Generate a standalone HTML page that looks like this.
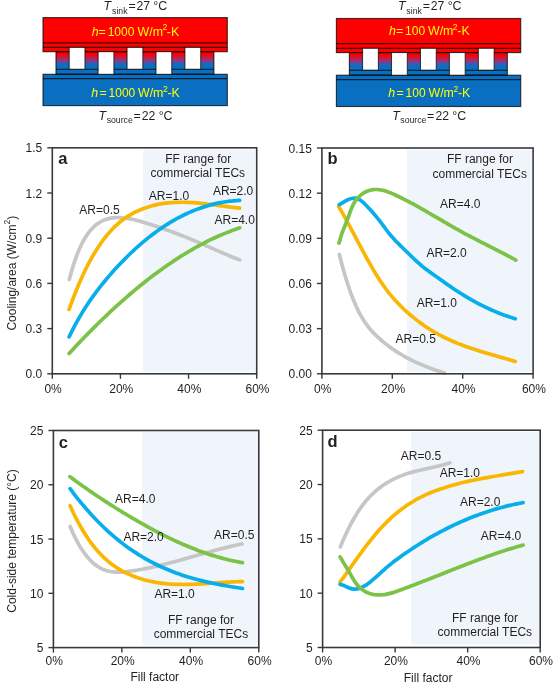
<!DOCTYPE html><html><head><meta charset="utf-8"><style>html,body{margin:0;padding:0;background:#fff;}svg{display:block;}text{font-family:"Liberation Sans", sans-serif;fill:#231f20;}</style></head><body>
<svg width="553" height="685" viewBox="0 0 553 685"><g style="will-change:transform">
<defs><linearGradient id="lg" x1="0" y1="0" x2="0" y2="1"><stop offset="0.15" stop-color="#ff0000"/><stop offset="0.5" stop-color="#8a3a8a"/><stop offset="0.75" stop-color="#0a6fc0"/><stop offset="1" stop-color="#0a6fc0"/></linearGradient></defs>
<rect x="43.00" y="17.60" width="184.30" height="34.10" fill="#ff0000"/>
<rect x="56.00" y="51.70" width="157.90" height="17.70" fill="url(#lg)"/>
<rect x="56.00" y="69.40" width="157.90" height="4.90" fill="#0a6fc0"/>
<rect x="43.00" y="74.30" width="184.30" height="31.30" fill="#0a6fc0"/>
<rect x="43.00" y="17.60" width="184.30" height="34.10" stroke="#000" stroke-opacity="0.72" stroke-width="1.15" fill="none"/>
<rect x="56.00" y="51.70" width="157.90" height="22.60" stroke="#000" stroke-opacity="0.72" stroke-width="1.15" fill="none"/>
<rect x="43.00" y="74.30" width="184.30" height="31.30" stroke="#000" stroke-opacity="0.72" stroke-width="1.15" fill="none"/>
<line x1="43.00" y1="42.80" x2="227.30" y2="42.80" stroke="#000" stroke-opacity="0.72" stroke-width="1.3"/>
<line x1="43.00" y1="47.40" x2="227.30" y2="47.40" stroke="#000" stroke-opacity="0.72" stroke-width="1.3"/>
<line x1="56.00" y1="69.40" x2="213.90" y2="69.40" stroke="#000" stroke-opacity="0.72" stroke-width="1.3"/>
<line x1="43.00" y1="78.70" x2="227.30" y2="78.70" stroke="#000" stroke-opacity="0.72" stroke-width="1.3"/>
<rect x="69.20" y="47.40" width="15.74" height="21.80" fill="#fff" stroke="#000" stroke-opacity="0.72" stroke-width="1.0"/>
<rect x="98.14" y="51.70" width="15.74" height="22.60" fill="#fff" stroke="#000" stroke-opacity="0.72" stroke-width="1.0"/>
<rect x="127.08" y="47.40" width="15.74" height="21.80" fill="#fff" stroke="#000" stroke-opacity="0.72" stroke-width="1.0"/>
<rect x="156.02" y="51.70" width="15.74" height="22.60" fill="#fff" stroke="#000" stroke-opacity="0.72" stroke-width="1.0"/>
<rect x="184.96" y="47.40" width="15.74" height="21.80" fill="#fff" stroke="#000" stroke-opacity="0.72" stroke-width="1.0"/>
<rect x="336.40" y="18.50" width="184.30" height="34.10" fill="#ff0000"/>
<rect x="349.40" y="52.60" width="157.90" height="17.70" fill="url(#lg)"/>
<rect x="349.40" y="70.30" width="157.90" height="4.90" fill="#0a6fc0"/>
<rect x="336.40" y="75.20" width="184.30" height="31.30" fill="#0a6fc0"/>
<rect x="336.40" y="18.50" width="184.30" height="34.10" stroke="#000" stroke-opacity="0.72" stroke-width="1.15" fill="none"/>
<rect x="349.40" y="52.60" width="157.90" height="22.60" stroke="#000" stroke-opacity="0.72" stroke-width="1.15" fill="none"/>
<rect x="336.40" y="75.20" width="184.30" height="31.30" stroke="#000" stroke-opacity="0.72" stroke-width="1.15" fill="none"/>
<line x1="336.40" y1="43.70" x2="520.70" y2="43.70" stroke="#000" stroke-opacity="0.72" stroke-width="1.3"/>
<line x1="336.40" y1="48.30" x2="520.70" y2="48.30" stroke="#000" stroke-opacity="0.72" stroke-width="1.3"/>
<line x1="349.40" y1="70.30" x2="507.30" y2="70.30" stroke="#000" stroke-opacity="0.72" stroke-width="1.3"/>
<line x1="336.40" y1="79.60" x2="520.70" y2="79.60" stroke="#000" stroke-opacity="0.72" stroke-width="1.3"/>
<rect x="362.60" y="48.30" width="15.74" height="21.80" fill="#fff" stroke="#000" stroke-opacity="0.72" stroke-width="1.0"/>
<rect x="391.54" y="52.60" width="15.74" height="22.60" fill="#fff" stroke="#000" stroke-opacity="0.72" stroke-width="1.0"/>
<rect x="420.48" y="48.30" width="15.74" height="21.80" fill="#fff" stroke="#000" stroke-opacity="0.72" stroke-width="1.0"/>
<rect x="449.42" y="52.60" width="15.74" height="22.60" fill="#fff" stroke="#000" stroke-opacity="0.72" stroke-width="1.0"/>
<rect x="478.36" y="48.30" width="15.74" height="21.80" fill="#fff" stroke="#000" stroke-opacity="0.72" stroke-width="1.0"/>
<text x="91.69" y="35.60" font-size="12.40" style="font-style:italic;fill:#ffff00;">h</text>
<text x="98.49" y="35.60" font-size="12.40" style="fill:#ffff00;">=</text>
<text x="107.69" y="35.60" font-size="12.00" style="fill:#ffff00;">1000</text>
<text x="137.55" y="35.60" font-size="12.40" style="fill:#ffff00;">W/m</text>
<text x="162.47" y="30.00" font-size="8.60" style="fill:#ffff00;">2</text>
<text x="166.85" y="35.60" font-size="12.40" style="fill:#ffff00;">-K</text>
<text x="91.29" y="96.70" font-size="12.40" style="font-style:italic;fill:#ffff00;">h</text>
<text x="99.49" y="96.70" font-size="12.40" style="fill:#ffff00;">=</text>
<text x="108.59" y="96.70" font-size="12.00" style="fill:#ffff00;">1000</text>
<text x="137.95" y="96.70" font-size="12.40" style="fill:#ffff00;">W/m</text>
<text x="162.97" y="91.60" font-size="8.60" style="fill:#ffff00;">2</text>
<text x="167.45" y="96.70" font-size="12.40" style="fill:#ffff00;">-K</text>
<text x="389.09" y="35.20" font-size="12.40" style="font-style:italic;fill:#ffff00;">h</text>
<text x="395.89" y="35.20" font-size="12.40" style="fill:#ffff00;">=</text>
<text x="405.09" y="35.20" font-size="12.00" style="fill:#ffff00;">100</text>
<text x="427.95" y="35.20" font-size="12.40" style="fill:#ffff00;">W/m</text>
<text x="452.87" y="29.60" font-size="8.60" style="fill:#ffff00;">2</text>
<text x="457.25" y="35.20" font-size="12.40" style="fill:#ffff00;">-K</text>
<text x="388.29" y="96.60" font-size="12.40" style="font-style:italic;fill:#ffff00;">h</text>
<text x="396.49" y="96.60" font-size="12.40" style="fill:#ffff00;">=</text>
<text x="405.59" y="96.60" font-size="12.00" style="fill:#ffff00;">100</text>
<text x="428.45" y="96.60" font-size="12.40" style="fill:#ffff00;">W/m</text>
<text x="453.47" y="91.50" font-size="8.60" style="fill:#ffff00;">2</text>
<text x="457.95" y="96.60" font-size="12.40" style="fill:#ffff00;">-K</text>
<text x="103.59" y="10.20" font-size="12.40" style="font-style:italic;">T</text>
<text x="112.06" y="13.50" font-size="8.70" style="">sink</text>
<text x="128.49" y="10.20" font-size="12.40" style="">=</text>
<text x="136.39" y="10.20" font-size="12.20" style="">27</text>
<text x="153.36" y="10.20" font-size="12.40" style="">°C</text>
<text x="397.89" y="10.20" font-size="12.40" style="font-style:italic;">T</text>
<text x="406.36" y="13.50" font-size="8.70" style="">sink</text>
<text x="422.79" y="10.20" font-size="12.40" style="">=</text>
<text x="430.69" y="10.20" font-size="12.20" style="">27</text>
<text x="447.66" y="10.20" font-size="12.40" style="">°C</text>
<text x="98.49" y="120.40" font-size="12.40" style="font-style:italic;">T</text>
<text x="106.66" y="123.40" font-size="8.70" style="">source</text>
<text x="133.39" y="120.40" font-size="12.40" style="">=</text>
<text x="141.69" y="120.40" font-size="12.20" style="">22</text>
<text x="158.66" y="120.40" font-size="12.40" style="">°C</text>
<text x="392.19" y="120.40" font-size="12.40" style="font-style:italic;">T</text>
<text x="400.36" y="123.40" font-size="8.70" style="">source</text>
<text x="427.09" y="120.40" font-size="12.40" style="">=</text>
<text x="435.39" y="120.40" font-size="12.20" style="">22</text>
<text x="452.36" y="120.40" font-size="12.40" style="">°C</text>
<rect x="143.2" y="149.6" width="112.20" height="222.20" fill="#eff5fa"/>
<path d="M69.30,279.50 C69.82,277.66 71.37,271.88 72.40,268.46 C73.43,265.04 74.46,261.90 75.50,258.97 C76.53,256.03 77.56,253.36 78.59,250.87 C79.63,248.38 80.66,246.13 81.69,244.04 C82.73,241.95 83.76,240.08 84.79,238.34 C85.82,236.61 86.86,235.06 87.89,233.63 C88.92,232.20 89.95,230.94 90.99,229.77 C92.02,228.60 93.05,227.58 94.09,226.63 C95.12,225.68 96.15,224.84 97.18,224.06 C98.22,223.29 99.25,222.61 100.28,222.00 C101.31,221.38 102.35,220.85 103.38,220.38 C104.41,219.91 105.45,219.51 106.48,219.17 C107.51,218.82 108.54,218.55 109.58,218.32 C110.61,218.09 111.64,217.92 112.67,217.80 C113.71,217.67 114.74,217.59 115.77,217.55 C116.81,217.51 117.84,217.51 118.87,217.54 C119.90,217.57 120.94,217.64 121.97,217.73 C123.00,217.82 124.03,217.94 125.07,218.07 C126.10,218.20 127.13,218.36 128.17,218.53 C129.20,218.70 130.23,218.89 131.26,219.10 C132.30,219.31 133.33,219.53 134.36,219.77 C135.39,220.00 136.43,220.26 137.46,220.52 C138.49,220.78 139.53,221.06 140.56,221.35 C141.59,221.63 142.62,221.93 143.66,222.24 C144.69,222.54 145.72,222.86 146.75,223.18 C147.79,223.50 148.82,223.83 149.85,224.16 C150.89,224.50 151.92,224.84 152.95,225.18 C153.98,225.52 155.02,225.86 156.05,226.21 C157.08,226.56 158.11,226.91 159.15,227.26 C160.18,227.62 161.21,227.97 162.25,228.33 C163.28,228.69 164.31,229.06 165.34,229.42 C166.38,229.79 167.41,230.16 168.44,230.53 C169.47,230.91 170.51,231.28 171.54,231.66 C172.57,232.05 173.61,232.43 174.64,232.82 C175.67,233.20 176.70,233.60 177.74,233.99 C178.77,234.38 179.80,234.78 180.83,235.19 C181.87,235.59 182.90,235.99 183.93,236.40 C184.97,236.81 186.00,237.23 187.03,237.64 C188.06,238.06 189.10,238.48 190.13,238.91 C191.16,239.33 192.19,239.76 193.23,240.20 C194.26,240.63 195.29,241.07 196.33,241.51 C197.36,241.94 198.39,242.39 199.42,242.83 C200.46,243.27 201.49,243.72 202.52,244.17 C203.55,244.62 204.59,245.07 205.62,245.52 C206.65,245.97 207.69,246.42 208.72,246.87 C209.75,247.32 210.78,247.77 211.82,248.22 C212.85,248.67 213.88,249.13 214.91,249.58 C215.95,250.03 216.98,250.48 218.01,250.92 C219.05,251.37 220.08,251.82 221.11,252.26 C222.14,252.71 223.18,253.15 224.21,253.59 C225.24,254.03 226.27,254.46 227.31,254.90 C228.34,255.33 229.37,255.76 230.41,256.18 C231.44,256.61 232.47,257.03 233.50,257.45 C234.54,257.87 235.57,258.28 236.60,258.69 C237.63,259.09 239.18,259.69 239.70,259.89" fill="none" stroke="#c6c6c6" stroke-width="3.70" stroke-linecap="round" stroke-linejoin="round"/>
<path d="M69.10,309.46 C69.62,308.04 71.17,303.68 72.20,300.91 C73.24,298.14 74.27,295.46 75.30,292.85 C76.34,290.24 77.37,287.72 78.41,285.27 C79.44,282.82 80.47,280.45 81.51,278.16 C82.54,275.86 83.58,273.64 84.61,271.49 C85.64,269.34 86.68,267.27 87.71,265.26 C88.74,263.25 89.78,261.31 90.81,259.44 C91.85,257.57 92.88,255.76 93.91,254.02 C94.95,252.28 95.98,250.60 97.02,248.98 C98.05,247.37 99.08,245.81 100.12,244.32 C101.15,242.82 102.19,241.38 103.22,240.00 C104.25,238.61 105.29,237.29 106.32,236.02 C107.36,234.74 108.39,233.52 109.42,232.35 C110.46,231.18 111.49,230.06 112.53,228.99 C113.56,227.92 114.59,226.90 115.63,225.92 C116.66,224.94 117.70,224.01 118.73,223.11 C119.76,222.22 120.80,221.38 121.83,220.57 C122.86,219.76 123.90,218.99 124.93,218.25 C125.97,217.52 127.00,216.83 128.03,216.16 C129.07,215.50 130.10,214.88 131.14,214.28 C132.17,213.69 133.20,213.12 134.24,212.59 C135.27,212.05 136.31,211.55 137.34,211.07 C138.37,210.59 139.41,210.14 140.44,209.71 C141.48,209.27 142.51,208.87 143.54,208.48 C144.58,208.10 145.61,207.73 146.65,207.39 C147.68,207.05 148.71,206.72 149.75,206.42 C150.78,206.11 151.82,205.83 152.85,205.56 C153.88,205.29 154.92,205.05 155.95,204.82 C156.98,204.59 158.02,204.37 159.05,204.18 C160.09,203.98 161.12,203.80 162.15,203.64 C163.19,203.48 164.22,203.33 165.26,203.20 C166.29,203.06 167.32,202.95 168.36,202.84 C169.39,202.74 170.43,202.65 171.46,202.58 C172.49,202.50 173.53,202.44 174.56,202.39 C175.60,202.34 176.63,202.31 177.66,202.28 C178.70,202.26 179.73,202.25 180.77,202.24 C181.80,202.24 182.83,202.25 183.87,202.27 C184.90,202.29 185.94,202.32 186.97,202.36 C188.00,202.39 189.04,202.44 190.07,202.50 C191.10,202.55 192.14,202.62 193.17,202.69 C194.21,202.76 195.24,202.84 196.27,202.93 C197.31,203.01 198.34,203.10 199.38,203.20 C200.41,203.30 201.44,203.40 202.48,203.51 C203.51,203.62 204.55,203.74 205.58,203.85 C206.61,203.97 207.65,204.10 208.68,204.22 C209.72,204.35 210.75,204.48 211.78,204.61 C212.82,204.74 213.85,204.87 214.89,205.01 C215.92,205.14 216.95,205.28 217.99,205.42 C219.02,205.55 220.06,205.69 221.09,205.83 C222.12,205.97 223.16,206.11 224.19,206.24 C225.22,206.38 226.26,206.52 227.29,206.65 C228.33,206.78 229.36,206.92 230.39,207.05 C231.43,207.18 232.46,207.30 233.50,207.43 C234.53,207.55 235.56,207.67 236.60,207.79 C237.63,207.90 239.18,208.07 239.70,208.12" fill="none" stroke="#f9b602" stroke-width="3.70" stroke-linecap="round" stroke-linejoin="round"/>
<path d="M69.10,336.83 C69.62,335.80 71.17,332.64 72.20,330.62 C73.24,328.61 74.27,326.65 75.30,324.73 C76.34,322.82 77.37,320.96 78.41,319.15 C79.44,317.33 80.47,315.56 81.51,313.84 C82.54,312.11 83.58,310.44 84.61,308.80 C85.64,307.16 86.68,305.56 87.71,304.00 C88.74,302.43 89.78,300.91 90.81,299.42 C91.85,297.93 92.88,296.48 93.91,295.05 C94.95,293.62 95.98,292.23 97.02,290.87 C98.05,289.50 99.08,288.16 100.12,286.85 C101.15,285.53 102.19,284.25 103.22,282.98 C104.25,281.71 105.29,280.46 106.32,279.24 C107.36,278.01 108.39,276.80 109.42,275.60 C110.46,274.41 111.49,273.23 112.53,272.06 C113.56,270.90 114.59,269.75 115.63,268.62 C116.66,267.48 117.70,266.37 118.73,265.26 C119.76,264.16 120.80,263.07 121.83,262.00 C122.86,260.93 123.90,259.87 124.93,258.83 C125.97,257.78 127.00,256.75 128.03,255.74 C129.07,254.73 130.10,253.73 131.14,252.75 C132.17,251.76 133.20,250.79 134.24,249.84 C135.27,248.89 136.31,247.95 137.34,247.02 C138.37,246.10 139.41,245.19 140.44,244.29 C141.48,243.40 142.51,242.52 143.54,241.65 C144.58,240.78 145.61,239.93 146.65,239.09 C147.68,238.26 148.71,237.43 149.75,236.62 C150.78,235.82 151.82,235.02 152.85,234.24 C153.88,233.46 154.92,232.69 155.95,231.94 C156.98,231.19 158.02,230.45 159.05,229.73 C160.09,229.00 161.12,228.29 162.15,227.60 C163.19,226.90 164.22,226.22 165.26,225.55 C166.29,224.88 167.32,224.23 168.36,223.59 C169.39,222.95 170.43,222.32 171.46,221.71 C172.49,221.09 173.53,220.50 174.56,219.91 C175.60,219.32 176.63,218.75 177.66,218.19 C178.70,217.64 179.73,217.09 180.77,216.56 C181.80,216.03 182.83,215.51 183.87,215.01 C184.90,214.50 185.94,214.01 186.97,213.53 C188.00,213.06 189.04,212.59 190.07,212.14 C191.10,211.69 192.14,211.25 193.17,210.83 C194.21,210.41 195.24,210.00 196.27,209.60 C197.31,209.20 198.34,208.81 199.38,208.44 C200.41,208.07 201.44,207.71 202.48,207.37 C203.51,207.02 204.55,206.69 205.58,206.37 C206.61,206.05 207.65,205.74 208.68,205.45 C209.72,205.16 210.75,204.87 211.78,204.61 C212.82,204.34 213.85,204.08 214.89,203.84 C215.92,203.60 216.95,203.37 217.99,203.15 C219.02,202.93 220.06,202.73 221.09,202.53 C222.12,202.34 223.16,202.16 224.19,202.00 C225.22,201.83 226.26,201.67 227.29,201.53 C228.33,201.39 229.36,201.26 230.39,201.14 C231.43,201.02 232.46,200.92 233.50,200.82 C234.53,200.73 235.56,200.65 236.60,200.58 C237.63,200.51 239.18,200.44 239.70,200.41" fill="none" stroke="#08aeea" stroke-width="3.70" stroke-linecap="round" stroke-linejoin="round"/>
<path d="M69.10,353.51 C69.62,352.95 71.17,351.26 72.20,350.15 C73.24,349.04 74.27,347.93 75.30,346.83 C76.34,345.72 77.37,344.63 78.41,343.54 C79.44,342.45 80.47,341.36 81.51,340.28 C82.54,339.20 83.58,338.13 84.61,337.06 C85.64,336.00 86.68,334.94 87.71,333.88 C88.74,332.83 89.78,331.78 90.81,330.73 C91.85,329.69 92.88,328.65 93.91,327.62 C94.95,326.59 95.98,325.57 97.02,324.55 C98.05,323.53 99.08,322.51 100.12,321.51 C101.15,320.50 102.19,319.50 103.22,318.51 C104.25,317.51 105.29,316.52 106.32,315.54 C107.36,314.56 108.39,313.58 109.42,312.61 C110.46,311.65 111.49,310.68 112.53,309.73 C113.56,308.77 114.59,307.82 115.63,306.87 C116.66,305.93 117.70,304.99 118.73,304.06 C119.76,303.13 120.80,302.21 121.83,301.29 C122.86,300.37 123.90,299.46 124.93,298.55 C125.97,297.65 127.00,296.75 128.03,295.86 C129.07,294.97 130.10,294.08 131.14,293.21 C132.17,292.33 133.20,291.46 134.24,290.59 C135.27,289.73 136.31,288.87 137.34,288.02 C138.37,287.16 139.41,286.32 140.44,285.48 C141.48,284.64 142.51,283.81 143.54,282.99 C144.58,282.17 145.61,281.35 146.65,280.54 C147.68,279.73 148.71,278.92 149.75,278.13 C150.78,277.33 151.82,276.54 152.85,275.76 C153.88,274.98 154.92,274.20 155.95,273.44 C156.98,272.67 158.02,271.91 159.05,271.15 C160.09,270.40 161.12,269.65 162.15,268.91 C163.19,268.17 164.22,267.44 165.26,266.72 C166.29,265.99 167.32,265.28 168.36,264.57 C169.39,263.85 170.43,263.15 171.46,262.46 C172.49,261.76 173.53,261.07 174.56,260.39 C175.60,259.71 176.63,259.04 177.66,258.37 C178.70,257.71 179.73,257.05 180.77,256.40 C181.80,255.75 182.83,255.10 183.87,254.47 C184.90,253.83 185.94,253.20 186.97,252.58 C188.00,251.96 189.04,251.35 190.07,250.74 C191.10,250.14 192.14,249.54 193.17,248.95 C194.21,248.36 195.24,247.78 196.27,247.21 C197.31,246.63 198.34,246.06 199.38,245.51 C200.41,244.95 201.44,244.40 202.48,243.85 C203.51,243.31 204.55,242.78 205.58,242.25 C206.61,241.72 207.65,241.20 208.68,240.69 C209.72,240.18 210.75,239.68 211.78,239.18 C212.82,238.69 213.85,238.20 214.89,237.72 C215.92,237.24 216.95,236.77 217.99,236.31 C219.02,235.85 220.06,235.39 221.09,234.95 C222.12,234.50 223.16,234.06 224.19,233.63 C225.22,233.20 226.26,232.78 227.29,232.37 C228.33,231.96 229.36,231.55 230.39,231.16 C231.43,230.76 232.46,230.37 233.50,229.99 C234.53,229.61 235.56,229.24 236.60,228.88 C237.63,228.52 239.18,227.99 239.70,227.82" fill="none" stroke="#7cc246" stroke-width="3.70" stroke-linecap="round" stroke-linejoin="round"/>
<rect x="52.30" y="147.80" width="204.40" height="226.00" fill="none" stroke="#38393d" stroke-width="1.6"/>
<line x1="47.30" y1="373.80" x2="52.30" y2="373.80" stroke="#38393d" stroke-width="1.4"/>
<text x="42.30" y="378.40" font-size="12" text-anchor="end" >0.0</text>
<line x1="47.30" y1="328.60" x2="52.30" y2="328.60" stroke="#38393d" stroke-width="1.4"/>
<text x="42.30" y="333.20" font-size="12" text-anchor="end" >0.3</text>
<line x1="47.30" y1="283.40" x2="52.30" y2="283.40" stroke="#38393d" stroke-width="1.4"/>
<text x="42.30" y="288.00" font-size="12" text-anchor="end" >0.6</text>
<line x1="47.30" y1="238.20" x2="52.30" y2="238.20" stroke="#38393d" stroke-width="1.4"/>
<text x="42.30" y="242.80" font-size="12" text-anchor="end" >0.9</text>
<line x1="47.30" y1="193.00" x2="52.30" y2="193.00" stroke="#38393d" stroke-width="1.4"/>
<text x="42.30" y="197.60" font-size="12" text-anchor="end" >1.2</text>
<line x1="47.30" y1="147.80" x2="52.30" y2="147.80" stroke="#38393d" stroke-width="1.4"/>
<text x="42.30" y="152.40" font-size="12" text-anchor="end" >1.5</text>
<line x1="52.30" y1="373.80" x2="52.30" y2="378.80" stroke="#38393d" stroke-width="1.4"/>
<text x="53.10" y="392.90" font-size="12" text-anchor="middle" >0%</text>
<line x1="120.43" y1="373.80" x2="120.43" y2="378.80" stroke="#38393d" stroke-width="1.4"/>
<text x="121.23" y="392.90" font-size="12" text-anchor="middle" >20%</text>
<line x1="188.57" y1="373.80" x2="188.57" y2="378.80" stroke="#38393d" stroke-width="1.4"/>
<text x="189.37" y="392.90" font-size="12" text-anchor="middle" >40%</text>
<line x1="256.70" y1="373.80" x2="256.70" y2="378.80" stroke="#38393d" stroke-width="1.4"/>
<text x="257.50" y="392.90" font-size="12" text-anchor="middle" >60%</text>
<text x="58.30" y="164.10" font-size="16.5" text-anchor="start" font-weight="bold">a</text>
<text x="79.30" y="213.90" font-size="12" text-anchor="start" >AR=0.5</text>
<text x="148.80" y="200.20" font-size="12" text-anchor="start" >AR=1.0</text>
<text x="212.90" y="195.10" font-size="12" text-anchor="start" >AR=2.0</text>
<text x="214.50" y="224.10" font-size="12" text-anchor="start" >AR=4.0</text>
<text x="165.20" y="162.90" font-size="12" text-anchor="start" >FF range for</text>
<text x="150.60" y="176.60" font-size="12" text-anchor="start" >commercial TECs</text>
<text x="16.3" y="273.2" font-size="12" text-anchor="middle" transform="rotate(-90 16.3 273.2)">Cooling/area (W/cm<tspan font-size="8.6" dy="-6">2</tspan><tspan dy="6">)</tspan></text>
<rect x="407.0" y="149.6" width="124.80" height="222.20" fill="#eff5fa"/>
<path d="M339.40,254.55 C339.91,256.54 341.46,262.68 342.49,266.46 C343.52,270.24 344.55,273.83 345.58,277.25 C346.61,280.67 347.64,283.90 348.66,286.97 C349.69,290.03 350.72,292.92 351.75,295.65 C352.78,298.38 353.81,300.94 354.84,303.35 C355.87,305.75 356.90,307.99 357.93,310.09 C358.96,312.20 359.99,314.14 361.02,315.96 C362.05,317.79 363.08,319.47 364.11,321.06 C365.14,322.64 366.16,324.10 367.19,325.48 C368.22,326.87 369.25,328.14 370.28,329.35 C371.31,330.57 372.34,331.69 373.37,332.77 C374.40,333.85 375.43,334.85 376.46,335.84 C377.49,336.82 378.52,337.75 379.55,338.67 C380.58,339.59 381.61,340.48 382.64,341.34 C383.66,342.21 384.69,343.05 385.72,343.87 C386.75,344.69 387.78,345.48 388.81,346.26 C389.84,347.03 390.87,347.78 391.90,348.51 C392.93,349.24 393.96,349.95 394.99,350.64 C396.02,351.32 397.05,351.99 398.08,352.64 C399.11,353.29 400.14,353.92 401.16,354.54 C402.19,355.15 403.22,355.74 404.25,356.32 C405.28,356.90 406.31,357.47 407.34,358.01 C408.37,358.56 409.40,359.09 410.43,359.61 C411.46,360.13 412.49,360.63 413.52,361.12 C414.55,361.61 415.58,362.09 416.61,362.56 C417.64,363.02 418.66,363.47 419.69,363.92 C420.72,364.36 421.75,364.79 422.78,365.21 C423.81,365.64 424.84,366.05 425.87,366.45 C426.90,366.86 427.93,367.25 428.96,367.64 C429.99,368.03 431.02,368.41 432.05,368.78 C433.08,369.16 434.11,369.53 435.14,369.89 C436.16,370.25 437.19,370.61 438.22,370.96 C439.25,371.32 440.28,371.67 441.31,372.02 C442.34,372.36 443.89,372.88 444.40,373.05" fill="none" stroke="#c6c6c6" stroke-width="3.70" stroke-linecap="round" stroke-linejoin="round"/>
<path d="M338.70,206.57 C339.22,207.46 340.76,210.08 341.80,211.89 C342.83,213.69 343.86,215.53 344.89,217.40 C345.93,219.26 346.96,221.16 347.99,223.07 C349.02,224.97 350.05,226.91 351.09,228.85 C352.12,230.79 353.15,232.74 354.18,234.70 C355.21,236.65 356.25,238.61 357.28,240.57 C358.31,242.52 359.34,244.48 360.38,246.42 C361.41,248.36 362.44,250.30 363.47,252.21 C364.50,254.13 365.54,256.03 366.57,257.90 C367.60,259.77 368.63,261.62 369.66,263.43 C370.70,265.25 371.73,267.04 372.76,268.80 C373.79,270.55 374.83,272.28 375.86,273.96 C376.89,275.64 377.92,277.29 378.95,278.90 C379.99,280.50 381.02,282.06 382.05,283.57 C383.08,285.09 384.12,286.55 385.15,287.97 C386.18,289.38 387.21,290.74 388.24,292.06 C389.28,293.38 390.31,294.65 391.34,295.88 C392.37,297.12 393.40,298.30 394.44,299.46 C395.47,300.61 396.50,301.73 397.53,302.81 C398.57,303.90 399.60,304.95 400.63,305.98 C401.66,307.01 402.69,308.00 403.73,308.98 C404.76,309.96 405.79,310.91 406.82,311.84 C407.85,312.77 408.89,313.68 409.92,314.57 C410.95,315.46 411.98,316.33 413.02,317.18 C414.05,318.02 415.08,318.85 416.11,319.66 C417.14,320.47 418.18,321.26 419.21,322.02 C420.24,322.79 421.27,323.54 422.31,324.28 C423.34,325.01 424.37,325.72 425.40,326.42 C426.43,327.12 427.47,327.80 428.50,328.46 C429.53,329.12 430.56,329.77 431.59,330.40 C432.63,331.03 433.66,331.64 434.69,332.24 C435.72,332.84 436.76,333.43 437.79,334.00 C438.82,334.57 439.85,335.12 440.88,335.66 C441.92,336.20 442.95,336.73 443.98,337.25 C445.01,337.76 446.05,338.27 447.08,338.76 C448.11,339.25 449.14,339.72 450.17,340.19 C451.21,340.66 452.24,341.11 453.27,341.56 C454.30,342.00 455.33,342.44 456.37,342.86 C457.40,343.29 458.43,343.70 459.46,344.11 C460.50,344.51 461.53,344.91 462.56,345.29 C463.59,345.68 464.62,346.06 465.66,346.43 C466.69,346.80 467.72,347.17 468.75,347.53 C469.78,347.88 470.82,348.23 471.85,348.58 C472.88,348.92 473.91,349.26 474.95,349.59 C475.98,349.92 477.01,350.25 478.04,350.57 C479.07,350.90 480.11,351.21 481.14,351.53 C482.17,351.84 483.20,352.15 484.24,352.46 C485.27,352.76 486.30,353.07 487.33,353.37 C488.36,353.67 489.40,353.97 490.43,354.27 C491.46,354.56 492.49,354.86 493.52,355.15 C494.56,355.45 495.59,355.74 496.62,356.03 C497.65,356.33 498.69,356.62 499.72,356.91 C500.75,357.21 501.78,357.50 502.81,357.80 C503.85,358.09 504.88,358.39 505.91,358.69 C506.94,358.99 507.97,359.29 509.01,359.59 C510.04,359.90 511.07,360.20 512.10,360.52 C513.14,360.83 514.68,361.30 515.20,361.46" fill="none" stroke="#f9b602" stroke-width="3.70" stroke-linecap="round" stroke-linejoin="round"/>
<path d="M339.20,204.59 C339.71,204.31 341.26,203.46 342.29,202.89 C343.32,202.31 344.35,201.68 345.38,201.12 C346.41,200.57 347.44,200.01 348.47,199.57 C349.50,199.13 350.53,198.72 351.56,198.48 C352.59,198.25 353.62,198.09 354.65,198.14 C355.68,198.19 356.71,198.40 357.74,198.80 C358.77,199.20 359.80,199.83 360.83,200.54 C361.86,201.26 362.89,202.16 363.92,203.10 C364.95,204.04 365.98,205.11 367.01,206.17 C368.04,207.23 369.06,208.34 370.09,209.47 C371.12,210.60 372.15,211.75 373.18,212.94 C374.21,214.13 375.24,215.34 376.27,216.60 C377.30,217.86 378.33,219.16 379.36,220.49 C380.39,221.82 381.42,223.21 382.45,224.59 C383.48,225.96 384.51,227.38 385.54,228.75 C386.57,230.12 387.60,231.49 388.63,232.80 C389.66,234.10 390.69,235.37 391.72,236.57 C392.75,237.76 393.78,238.88 394.81,239.98 C395.84,241.08 396.87,242.12 397.90,243.15 C398.93,244.19 399.96,245.18 400.99,246.20 C402.02,247.21 403.05,248.22 404.08,249.23 C405.11,250.24 406.14,251.26 407.17,252.27 C408.20,253.28 409.23,254.30 410.26,255.29 C411.29,256.29 412.32,257.29 413.35,258.27 C414.38,259.25 415.41,260.22 416.44,261.17 C417.47,262.11 418.50,263.04 419.53,263.94 C420.56,264.84 421.59,265.72 422.62,266.57 C423.65,267.41 424.68,268.22 425.71,269.00 C426.74,269.79 427.76,270.54 428.79,271.28 C429.82,272.03 430.85,272.75 431.88,273.48 C432.91,274.20 433.94,274.92 434.97,275.65 C436.00,276.37 437.03,277.10 438.06,277.83 C439.09,278.57 440.12,279.30 441.15,280.04 C442.18,280.77 443.21,281.50 444.24,282.23 C445.27,282.96 446.30,283.70 447.33,284.42 C448.36,285.14 449.39,285.86 450.42,286.57 C451.45,287.29 452.48,287.99 453.51,288.69 C454.54,289.38 455.57,290.07 456.60,290.75 C457.63,291.43 458.66,292.09 459.69,292.75 C460.72,293.41 461.75,294.05 462.78,294.69 C463.81,295.33 464.84,295.96 465.87,296.58 C466.90,297.19 467.93,297.80 468.96,298.40 C469.99,299.00 471.02,299.59 472.05,300.17 C473.08,300.75 474.11,301.32 475.14,301.88 C476.17,302.44 477.20,302.99 478.23,303.53 C479.26,304.07 480.29,304.60 481.32,305.12 C482.35,305.64 483.38,306.15 484.41,306.65 C485.44,307.15 486.46,307.64 487.49,308.13 C488.52,308.61 489.55,309.08 490.58,309.54 C491.61,310.01 492.64,310.46 493.67,310.90 C494.70,311.35 495.73,311.78 496.76,312.21 C497.79,312.63 498.82,313.04 499.85,313.45 C500.88,313.86 501.91,314.25 502.94,314.64 C503.97,315.02 505.00,315.40 506.03,315.77 C507.06,316.13 508.09,316.49 509.12,316.84 C510.15,317.19 511.18,317.53 512.21,317.85 C513.24,318.18 514.79,318.65 515.30,318.81" fill="none" stroke="#08aeea" stroke-width="3.70" stroke-linecap="round" stroke-linejoin="round"/>
<path d="M339.00,243.08 C339.52,241.39 341.07,235.91 342.10,232.92 C343.14,229.93 344.17,227.81 345.20,225.16 C346.24,222.50 347.27,219.76 348.31,216.98 C349.34,214.20 350.37,210.92 351.41,208.47 C352.44,206.03 353.47,204.04 354.51,202.29 C355.54,200.55 356.58,199.23 357.61,198.02 C358.64,196.82 359.68,195.93 360.71,195.07 C361.75,194.22 362.78,193.53 363.81,192.90 C364.85,192.27 365.88,191.75 366.92,191.31 C367.95,190.87 368.98,190.52 370.02,190.24 C371.05,189.97 372.09,189.78 373.12,189.66 C374.15,189.53 375.19,189.49 376.22,189.50 C377.25,189.51 378.29,189.59 379.32,189.72 C380.36,189.85 381.39,190.04 382.42,190.27 C383.46,190.50 384.49,190.79 385.53,191.10 C386.56,191.42 387.59,191.78 388.63,192.16 C389.66,192.55 390.70,192.97 391.73,193.41 C392.76,193.84 393.80,194.31 394.83,194.78 C395.87,195.25 396.90,195.74 397.93,196.24 C398.97,196.73 400.00,197.24 401.04,197.75 C402.07,198.26 403.10,198.78 404.14,199.31 C405.17,199.83 406.20,200.37 407.24,200.90 C408.27,201.44 409.31,201.99 410.34,202.54 C411.37,203.10 412.41,203.65 413.44,204.22 C414.48,204.78 415.51,205.35 416.54,205.92 C417.58,206.49 418.61,207.07 419.65,207.65 C420.68,208.24 421.71,208.82 422.75,209.41 C423.78,210.00 424.82,210.59 425.85,211.19 C426.88,211.78 427.92,212.38 428.95,212.98 C429.98,213.58 431.02,214.18 432.05,214.78 C433.09,215.38 434.12,215.99 435.15,216.59 C436.19,217.19 437.22,217.80 438.26,218.41 C439.29,219.01 440.32,219.62 441.36,220.22 C442.39,220.82 443.43,221.43 444.46,222.03 C445.49,222.63 446.53,223.24 447.56,223.84 C448.60,224.44 449.63,225.03 450.66,225.63 C451.70,226.22 452.73,226.82 453.76,227.41 C454.80,227.99 455.83,228.58 456.87,229.16 C457.90,229.75 458.93,230.32 459.97,230.90 C461.00,231.47 462.04,232.04 463.07,232.61 C464.10,233.17 465.14,233.73 466.17,234.28 C467.21,234.84 468.24,235.39 469.27,235.94 C470.31,236.48 471.34,237.03 472.38,237.57 C473.41,238.11 474.44,238.64 475.48,239.18 C476.51,239.71 477.55,240.24 478.58,240.77 C479.61,241.30 480.65,241.83 481.68,242.36 C482.71,242.88 483.75,243.41 484.78,243.93 C485.82,244.46 486.85,244.98 487.88,245.51 C488.92,246.03 489.95,246.55 490.99,247.08 C492.02,247.60 493.05,248.13 494.09,248.65 C495.12,249.18 496.16,249.71 497.19,250.23 C498.22,250.76 499.26,251.29 500.29,251.83 C501.33,252.36 502.36,252.89 503.39,253.43 C504.43,253.97 505.46,254.51 506.49,255.06 C507.53,255.60 508.56,256.15 509.60,256.70 C510.63,257.26 511.66,257.81 512.70,258.37 C513.73,258.94 515.28,259.79 515.80,260.07" fill="none" stroke="#7cc246" stroke-width="3.70" stroke-linecap="round" stroke-linejoin="round"/>
<rect x="321.90" y="148.00" width="211.20" height="225.80" fill="none" stroke="#38393d" stroke-width="1.6"/>
<line x1="316.90" y1="373.80" x2="321.90" y2="373.80" stroke="#38393d" stroke-width="1.4"/>
<text x="311.90" y="378.40" font-size="12" text-anchor="end" >0.00</text>
<line x1="316.90" y1="328.64" x2="321.90" y2="328.64" stroke="#38393d" stroke-width="1.4"/>
<text x="311.90" y="333.24" font-size="12" text-anchor="end" >0.03</text>
<line x1="316.90" y1="283.48" x2="321.90" y2="283.48" stroke="#38393d" stroke-width="1.4"/>
<text x="311.90" y="288.08" font-size="12" text-anchor="end" >0.06</text>
<line x1="316.90" y1="238.32" x2="321.90" y2="238.32" stroke="#38393d" stroke-width="1.4"/>
<text x="311.90" y="242.92" font-size="12" text-anchor="end" >0.09</text>
<line x1="316.90" y1="193.16" x2="321.90" y2="193.16" stroke="#38393d" stroke-width="1.4"/>
<text x="311.90" y="197.76" font-size="12" text-anchor="end" >0.12</text>
<line x1="316.90" y1="148.00" x2="321.90" y2="148.00" stroke="#38393d" stroke-width="1.4"/>
<text x="311.90" y="152.60" font-size="12" text-anchor="end" >0.15</text>
<line x1="321.90" y1="373.80" x2="321.90" y2="378.80" stroke="#38393d" stroke-width="1.4"/>
<text x="322.70" y="392.90" font-size="12" text-anchor="middle" >0%</text>
<line x1="392.30" y1="373.80" x2="392.30" y2="378.80" stroke="#38393d" stroke-width="1.4"/>
<text x="393.10" y="392.90" font-size="12" text-anchor="middle" >20%</text>
<line x1="462.70" y1="373.80" x2="462.70" y2="378.80" stroke="#38393d" stroke-width="1.4"/>
<text x="463.50" y="392.90" font-size="12" text-anchor="middle" >40%</text>
<line x1="533.10" y1="373.80" x2="533.10" y2="378.80" stroke="#38393d" stroke-width="1.4"/>
<text x="533.90" y="392.90" font-size="12" text-anchor="middle" >60%</text>
<text x="327.60" y="163.70" font-size="16.5" text-anchor="start" font-weight="bold">b</text>
<text x="440.10" y="208.10" font-size="12" text-anchor="start" >AR=4.0</text>
<text x="426.40" y="257.40" font-size="12" text-anchor="start" >AR=2.0</text>
<text x="416.70" y="306.70" font-size="12" text-anchor="start" >AR=1.0</text>
<text x="395.50" y="343.40" font-size="12" text-anchor="start" >AR=0.5</text>
<text x="446.90" y="163.20" font-size="12" text-anchor="start" >FF range for</text>
<text x="432.50" y="177.90" font-size="12" text-anchor="start" >commercial TECs</text>
<rect x="142.0" y="432.2" width="116.00" height="212.40" fill="#eff5fa"/>
<path d="M70.10,526.39 C70.61,527.56 72.15,531.20 73.17,533.43 C74.20,535.65 75.22,537.74 76.24,539.73 C77.27,541.71 78.29,543.58 79.31,545.33 C80.34,547.09 81.36,548.74 82.39,550.28 C83.41,551.83 84.43,553.27 85.46,554.61 C86.48,555.96 87.50,557.20 88.53,558.36 C89.55,559.52 90.58,560.58 91.60,561.56 C92.62,562.55 93.65,563.44 94.67,564.26 C95.70,565.08 96.72,565.82 97.74,566.49 C98.77,567.16 99.79,567.76 100.81,568.29 C101.84,568.83 102.86,569.29 103.89,569.70 C104.91,570.11 105.93,570.46 106.96,570.76 C107.98,571.05 109.00,571.29 110.03,571.49 C111.05,571.69 112.08,571.84 113.10,571.95 C114.12,572.07 115.15,572.14 116.17,572.18 C117.20,572.22 118.22,572.22 119.24,572.19 C120.27,572.17 121.29,572.12 122.31,572.05 C123.34,571.98 124.36,571.88 125.39,571.78 C126.41,571.67 127.43,571.55 128.46,571.42 C129.48,571.29 130.50,571.15 131.53,571.01 C132.55,570.86 133.58,570.71 134.60,570.55 C135.62,570.39 136.65,570.22 137.67,570.05 C138.70,569.88 139.72,569.70 140.74,569.52 C141.77,569.33 142.79,569.14 143.81,568.94 C144.84,568.75 145.86,568.55 146.89,568.34 C147.91,568.13 148.93,567.92 149.96,567.70 C150.98,567.48 152.00,567.26 153.03,567.03 C154.05,566.80 155.08,566.57 156.10,566.33 C157.12,566.10 158.15,565.85 159.17,565.61 C160.20,565.36 161.22,565.11 162.24,564.86 C163.27,564.61 164.29,564.35 165.31,564.09 C166.34,563.83 167.36,563.57 168.39,563.30 C169.41,563.04 170.43,562.77 171.46,562.49 C172.48,562.22 173.50,561.95 174.53,561.67 C175.55,561.40 176.58,561.12 177.60,560.84 C178.62,560.56 179.65,560.27 180.67,559.99 C181.70,559.71 182.72,559.42 183.74,559.13 C184.77,558.85 185.79,558.56 186.81,558.27 C187.84,557.98 188.86,557.69 189.89,557.40 C190.91,557.11 191.93,556.82 192.96,556.53 C193.98,556.24 195.00,555.95 196.03,555.66 C197.05,555.36 198.08,555.07 199.10,554.78 C200.12,554.49 201.15,554.20 202.17,553.92 C203.20,553.63 204.22,553.34 205.24,553.05 C206.27,552.77 207.29,552.48 208.31,552.20 C209.34,551.91 210.36,551.63 211.39,551.35 C212.41,551.07 213.43,550.79 214.46,550.52 C215.48,550.24 216.50,549.97 217.53,549.70 C218.55,549.43 219.58,549.16 220.60,548.89 C221.62,548.63 222.65,548.37 223.67,548.11 C224.70,547.85 225.72,547.59 226.74,547.34 C227.77,547.09 228.79,546.84 229.81,546.60 C230.84,546.36 231.86,546.12 232.89,545.88 C233.91,545.65 234.93,545.41 235.96,545.19 C236.98,544.96 238.00,544.74 239.03,544.52 C240.05,544.31 241.59,544.00 242.10,543.89" fill="none" stroke="#c6c6c6" stroke-width="3.70" stroke-linecap="round" stroke-linejoin="round"/>
<path d="M70.10,505.80 C70.61,506.91 72.15,510.30 73.18,512.45 C74.20,514.59 75.23,516.65 76.26,518.65 C77.28,520.65 78.31,522.57 79.34,524.43 C80.36,526.29 81.39,528.08 82.41,529.81 C83.44,531.54 84.47,533.20 85.49,534.80 C86.52,536.41 87.55,537.94 88.57,539.43 C89.60,540.91 90.62,542.33 91.65,543.70 C92.68,545.07 93.70,546.38 94.73,547.64 C95.75,548.90 96.78,550.10 97.81,551.26 C98.83,552.42 99.86,553.52 100.89,554.59 C101.91,555.65 102.94,556.66 103.96,557.63 C104.99,558.61 106.02,559.53 107.04,560.42 C108.07,561.31 109.10,562.15 110.12,562.96 C111.15,563.77 112.17,564.54 113.20,565.28 C114.23,566.02 115.25,566.72 116.28,567.39 C117.30,568.06 118.33,568.70 119.36,569.31 C120.38,569.92 121.41,570.50 122.44,571.06 C123.46,571.62 124.49,572.14 125.51,572.65 C126.54,573.16 127.57,573.64 128.59,574.11 C129.62,574.58 130.65,575.02 131.67,575.45 C132.70,575.88 133.72,576.28 134.75,576.68 C135.78,577.07 136.80,577.44 137.83,577.79 C138.85,578.15 139.88,578.49 140.91,578.81 C141.93,579.13 142.96,579.43 143.99,579.72 C145.01,580.01 146.04,580.28 147.06,580.54 C148.09,580.80 149.12,581.04 150.14,581.27 C151.17,581.50 152.20,581.71 153.22,581.91 C154.25,582.11 155.27,582.30 156.30,582.47 C157.33,582.65 158.35,582.81 159.38,582.95 C160.40,583.10 161.43,583.24 162.46,583.36 C163.48,583.48 164.51,583.59 165.54,583.70 C166.56,583.80 167.59,583.89 168.61,583.97 C169.64,584.05 170.67,584.12 171.69,584.18 C172.72,584.24 173.75,584.29 174.77,584.33 C175.80,584.37 176.82,584.40 177.85,584.42 C178.88,584.45 179.90,584.47 180.93,584.47 C181.95,584.48 182.98,584.48 184.01,584.48 C185.03,584.47 186.06,584.46 187.09,584.44 C188.11,584.42 189.14,584.40 190.16,584.37 C191.19,584.34 192.22,584.30 193.24,584.26 C194.27,584.23 195.30,584.18 196.32,584.13 C197.35,584.08 198.37,584.03 199.40,583.98 C200.43,583.92 201.45,583.86 202.48,583.80 C203.50,583.74 204.53,583.67 205.56,583.61 C206.58,583.54 207.61,583.47 208.64,583.40 C209.66,583.34 210.69,583.27 211.71,583.19 C212.74,583.12 213.77,583.05 214.79,582.98 C215.82,582.91 216.85,582.84 217.87,582.77 C218.90,582.70 219.92,582.63 220.95,582.57 C221.98,582.50 223.00,582.43 224.03,582.37 C225.05,582.31 226.08,582.25 227.11,582.19 C228.13,582.13 229.16,582.08 230.19,582.03 C231.21,581.98 232.24,581.93 233.26,581.89 C234.29,581.84 235.32,581.80 236.34,581.77 C237.37,581.74 238.40,581.71 239.42,581.69 C240.45,581.67 241.99,581.65 242.50,581.64" fill="none" stroke="#f9b602" stroke-width="3.70" stroke-linecap="round" stroke-linejoin="round"/>
<path d="M70.10,488.70 C70.61,489.38 72.15,491.46 73.18,492.80 C74.20,494.15 75.23,495.48 76.26,496.79 C77.28,498.09 78.31,499.38 79.34,500.65 C80.36,501.92 81.39,503.17 82.41,504.40 C83.44,505.62 84.47,506.83 85.49,508.03 C86.52,509.22 87.55,510.39 88.57,511.54 C89.60,512.70 90.62,513.83 91.65,514.95 C92.68,516.07 93.70,517.17 94.73,518.25 C95.75,519.33 96.78,520.39 97.81,521.44 C98.83,522.49 99.86,523.51 100.89,524.53 C101.91,525.54 102.94,526.53 103.96,527.51 C104.99,528.49 106.02,529.45 107.04,530.39 C108.07,531.34 109.10,532.26 110.12,533.18 C111.15,534.09 112.17,534.98 113.20,535.86 C114.23,536.74 115.25,537.61 116.28,538.45 C117.30,539.30 118.33,540.14 119.36,540.95 C120.38,541.77 121.41,542.58 122.44,543.36 C123.46,544.15 124.49,544.93 125.51,545.68 C126.54,546.44 127.57,547.19 128.59,547.92 C129.62,548.65 130.65,549.37 131.67,550.07 C132.70,550.77 133.72,551.46 134.75,552.14 C135.78,552.81 136.80,553.47 137.83,554.12 C138.85,554.77 139.88,555.41 140.91,556.03 C141.93,556.65 142.96,557.27 143.99,557.86 C145.01,558.46 146.04,559.05 147.06,559.62 C148.09,560.20 149.12,560.76 150.14,561.31 C151.17,561.86 152.20,562.40 153.22,562.92 C154.25,563.45 155.27,563.97 156.30,564.47 C157.33,564.98 158.35,565.47 159.38,565.95 C160.40,566.44 161.43,566.91 162.46,567.37 C163.48,567.83 164.51,568.29 165.54,568.73 C166.56,569.17 167.59,569.60 168.61,570.02 C169.64,570.45 170.67,570.86 171.69,571.26 C172.72,571.67 173.75,572.06 174.77,572.44 C175.80,572.83 176.82,573.21 177.85,573.57 C178.88,573.94 179.90,574.30 180.93,574.65 C181.95,575.00 182.98,575.34 184.01,575.68 C185.03,576.01 186.06,576.34 187.09,576.66 C188.11,576.98 189.14,577.29 190.16,577.59 C191.19,577.89 192.22,578.19 193.24,578.48 C194.27,578.77 195.30,579.05 196.32,579.33 C197.35,579.61 198.37,579.88 199.40,580.14 C200.43,580.40 201.45,580.66 202.48,580.91 C203.50,581.16 204.53,581.41 205.56,581.65 C206.58,581.89 207.61,582.12 208.64,582.35 C209.66,582.58 210.69,582.80 211.71,583.02 C212.74,583.24 213.77,583.46 214.79,583.67 C215.82,583.88 216.85,584.08 217.87,584.28 C218.90,584.48 219.92,584.68 220.95,584.87 C221.98,585.07 223.00,585.26 224.03,585.44 C225.05,585.63 226.08,585.81 227.11,585.99 C228.13,586.17 229.16,586.34 230.19,586.51 C231.21,586.69 232.24,586.86 233.26,587.03 C234.29,587.19 235.32,587.36 236.34,587.52 C237.37,587.68 238.40,587.84 239.42,588.00 C240.45,588.16 241.99,588.40 242.50,588.48" fill="none" stroke="#08aeea" stroke-width="3.70" stroke-linecap="round" stroke-linejoin="round"/>
<path d="M69.90,476.71 C70.41,477.09 71.95,478.24 72.98,478.99 C74.01,479.75 75.04,480.50 76.06,481.24 C77.09,481.99 78.12,482.73 79.15,483.47 C80.17,484.20 81.20,484.94 82.23,485.67 C83.26,486.39 84.28,487.12 85.31,487.84 C86.34,488.56 87.37,489.27 88.39,489.99 C89.42,490.70 90.45,491.41 91.48,492.11 C92.50,492.81 93.53,493.51 94.56,494.21 C95.58,494.90 96.61,495.59 97.64,496.28 C98.67,496.97 99.69,497.65 100.72,498.33 C101.75,499.01 102.78,499.69 103.80,500.36 C104.83,501.03 105.86,501.70 106.89,502.36 C107.91,503.03 108.94,503.69 109.97,504.35 C111.00,505.00 112.02,505.66 113.05,506.31 C114.08,506.95 115.10,507.60 116.13,508.24 C117.16,508.88 118.19,509.52 119.21,510.16 C120.24,510.79 121.27,511.43 122.30,512.05 C123.32,512.68 124.35,513.31 125.38,513.93 C126.41,514.55 127.43,515.17 128.46,515.78 C129.49,516.39 130.52,517.01 131.54,517.61 C132.57,518.22 133.60,518.82 134.62,519.42 C135.65,520.02 136.68,520.62 137.71,521.21 C138.73,521.80 139.76,522.39 140.79,522.97 C141.82,523.56 142.84,524.14 143.87,524.71 C144.90,525.29 145.93,525.86 146.95,526.42 C147.98,526.99 149.01,527.55 150.04,528.11 C151.06,528.67 152.09,529.22 153.12,529.77 C154.15,530.32 155.17,530.87 156.20,531.40 C157.23,531.94 158.25,532.48 159.28,533.01 C160.31,533.54 161.34,534.06 162.36,534.58 C163.39,535.10 164.42,535.62 165.45,536.13 C166.47,536.64 167.50,537.14 168.53,537.64 C169.56,538.14 170.58,538.64 171.61,539.12 C172.64,539.61 173.67,540.10 174.69,540.57 C175.72,541.05 176.75,541.52 177.77,541.99 C178.80,542.46 179.83,542.92 180.86,543.37 C181.88,543.83 182.91,544.28 183.94,544.72 C184.97,545.16 185.99,545.60 187.02,546.03 C188.05,546.46 189.08,546.89 190.10,547.31 C191.13,547.73 192.16,548.14 193.19,548.54 C194.21,548.95 195.24,549.35 196.27,549.74 C197.30,550.14 198.32,550.52 199.35,550.91 C200.38,551.29 201.40,551.66 202.43,552.03 C203.46,552.39 204.49,552.75 205.51,553.11 C206.54,553.46 207.57,553.81 208.60,554.15 C209.62,554.49 210.65,554.82 211.68,555.14 C212.71,555.47 213.73,555.79 214.76,556.10 C215.79,556.41 216.82,556.71 217.84,557.01 C218.87,557.31 219.90,557.60 220.92,557.88 C221.95,558.16 222.98,558.43 224.01,558.70 C225.03,558.96 226.06,559.22 227.09,559.47 C228.12,559.72 229.14,559.97 230.17,560.20 C231.20,560.44 232.23,560.66 233.25,560.88 C234.28,561.10 235.31,561.31 236.34,561.52 C237.36,561.72 238.39,561.91 239.42,562.10 C240.45,562.29 241.99,562.54 242.50,562.63" fill="none" stroke="#7cc246" stroke-width="3.70" stroke-linecap="round" stroke-linejoin="round"/>
<rect x="53.40" y="430.50" width="205.40" height="217.10" fill="none" stroke="#38393d" stroke-width="1.6"/>
<line x1="48.40" y1="647.60" x2="53.40" y2="647.60" stroke="#38393d" stroke-width="1.4"/>
<text x="43.40" y="652.20" font-size="12" text-anchor="end" >5</text>
<line x1="48.40" y1="593.33" x2="53.40" y2="593.33" stroke="#38393d" stroke-width="1.4"/>
<text x="43.40" y="597.93" font-size="12" text-anchor="end" >10</text>
<line x1="48.40" y1="539.05" x2="53.40" y2="539.05" stroke="#38393d" stroke-width="1.4"/>
<text x="43.40" y="543.65" font-size="12" text-anchor="end" >15</text>
<line x1="48.40" y1="484.77" x2="53.40" y2="484.77" stroke="#38393d" stroke-width="1.4"/>
<text x="43.40" y="489.38" font-size="12" text-anchor="end" >20</text>
<line x1="48.40" y1="430.50" x2="53.40" y2="430.50" stroke="#38393d" stroke-width="1.4"/>
<text x="43.40" y="435.10" font-size="12" text-anchor="end" >25</text>
<line x1="53.40" y1="647.60" x2="53.40" y2="652.60" stroke="#38393d" stroke-width="1.4"/>
<text x="54.20" y="665.00" font-size="12" text-anchor="middle" >0%</text>
<line x1="121.87" y1="647.60" x2="121.87" y2="652.60" stroke="#38393d" stroke-width="1.4"/>
<text x="122.67" y="665.00" font-size="12" text-anchor="middle" >20%</text>
<line x1="190.33" y1="647.60" x2="190.33" y2="652.60" stroke="#38393d" stroke-width="1.4"/>
<text x="191.13" y="665.00" font-size="12" text-anchor="middle" >40%</text>
<line x1="258.80" y1="647.60" x2="258.80" y2="652.60" stroke="#38393d" stroke-width="1.4"/>
<text x="259.60" y="665.00" font-size="12" text-anchor="middle" >60%</text>
<text x="58.80" y="447.50" font-size="16.5" text-anchor="start" font-weight="bold">c</text>
<text x="115.10" y="503.30" font-size="12" text-anchor="start" >AR=4.0</text>
<text x="123.40" y="541.00" font-size="12" text-anchor="start" >AR=2.0</text>
<text x="214.10" y="539.30" font-size="12" text-anchor="start" >AR=0.5</text>
<text x="154.40" y="597.60" font-size="12" text-anchor="start" >AR=1.0</text>
<text x="168.00" y="624.10" font-size="12" text-anchor="start" >FF range for</text>
<text x="153.70" y="637.70" font-size="12" text-anchor="start" >commercial TECs</text>
<text x="16.3" y="541" font-size="12" text-anchor="middle" transform="rotate(-90 16.3 541)">Cold-side temperature (°C)</text>
<text x="154.75" y="681.10" font-size="12" text-anchor="middle" >Fill factor</text>
<rect x="411.2" y="431.9" width="128.20" height="212.60" fill="#eff5fa"/>
<path d="M340.40,546.85 C340.92,545.60 342.49,541.75 343.53,539.34 C344.57,536.94 345.61,534.63 346.66,532.42 C347.70,530.21 348.74,528.10 349.79,526.07 C350.83,524.04 351.87,522.10 352.91,520.24 C353.96,518.38 355.00,516.62 356.04,514.92 C357.09,513.22 358.13,511.61 359.17,510.07 C360.21,508.52 361.26,507.06 362.30,505.66 C363.34,504.25 364.39,502.92 365.43,501.65 C366.47,500.38 367.51,499.18 368.56,498.03 C369.60,496.88 370.64,495.80 371.69,494.76 C372.73,493.72 373.77,492.74 374.81,491.80 C375.86,490.87 376.90,489.98 377.94,489.14 C378.99,488.29 380.03,487.49 381.07,486.73 C382.11,485.96 383.16,485.24 384.20,484.55 C385.24,483.85 386.29,483.20 387.33,482.57 C388.37,481.94 389.41,481.34 390.46,480.77 C391.50,480.20 392.54,479.66 393.59,479.14 C394.63,478.62 395.67,478.14 396.71,477.67 C397.76,477.20 398.80,476.76 399.84,476.34 C400.89,475.92 401.93,475.52 402.97,475.13 C404.01,474.75 405.06,474.39 406.10,474.04 C407.14,473.70 408.19,473.37 409.23,473.05 C410.27,472.74 411.31,472.44 412.36,472.15 C413.40,471.86 414.44,471.58 415.49,471.31 C416.53,471.04 417.57,470.79 418.61,470.53 C419.66,470.28 420.70,470.04 421.74,469.80 C422.79,469.56 423.83,469.32 424.87,469.09 C425.91,468.86 426.96,468.63 428.00,468.40 C429.04,468.17 430.09,467.94 431.13,467.71 C432.17,467.48 433.21,467.25 434.26,467.01 C435.30,466.77 436.34,466.53 437.39,466.28 C438.43,466.02 439.47,465.77 440.51,465.50 C441.56,465.24 442.60,464.96 443.64,464.68 C444.69,464.39 445.73,464.09 446.77,463.78 C447.81,463.46 449.38,462.96 449.90,462.80" fill="none" stroke="#c6c6c6" stroke-width="3.70" stroke-linecap="round" stroke-linejoin="round"/>
<path d="M340.10,581.97 C340.62,581.27 342.16,579.20 343.19,577.79 C344.22,576.37 345.26,574.94 346.29,573.50 C347.32,572.06 348.35,570.60 349.38,569.14 C350.41,567.68 351.44,566.22 352.47,564.76 C353.50,563.29 354.54,561.83 355.57,560.38 C356.60,558.93 357.63,557.48 358.66,556.05 C359.69,554.62 360.72,553.20 361.75,551.81 C362.78,550.41 363.81,549.03 364.85,547.67 C365.88,546.31 366.91,544.96 367.94,543.64 C368.97,542.32 370.00,541.02 371.03,539.74 C372.06,538.46 373.09,537.20 374.13,535.97 C375.16,534.73 376.19,533.52 377.22,532.33 C378.25,531.14 379.28,529.98 380.31,528.84 C381.34,527.70 382.37,526.58 383.41,525.50 C384.44,524.41 385.47,523.35 386.50,522.32 C387.53,521.29 388.56,520.29 389.59,519.31 C390.62,518.33 391.65,517.39 392.68,516.47 C393.72,515.55 394.75,514.66 395.78,513.79 C396.81,512.92 397.84,512.08 398.87,511.26 C399.90,510.45 400.93,509.66 401.96,508.89 C403.00,508.12 404.03,507.37 405.06,506.65 C406.09,505.93 407.12,505.23 408.15,504.55 C409.18,503.87 410.21,503.22 411.24,502.58 C412.28,501.94 413.31,501.33 414.34,500.73 C415.37,500.13 416.40,499.55 417.43,498.99 C418.46,498.43 419.49,497.89 420.52,497.37 C421.55,496.84 422.59,496.33 423.62,495.84 C424.65,495.34 425.68,494.87 426.71,494.41 C427.74,493.94 428.77,493.50 429.80,493.06 C430.83,492.63 431.87,492.20 432.90,491.80 C433.93,491.39 434.96,490.99 435.99,490.61 C437.02,490.22 438.05,489.85 439.08,489.48 C440.11,489.12 441.15,488.77 442.18,488.42 C443.21,488.08 444.24,487.74 445.27,487.41 C446.30,487.08 447.33,486.76 448.36,486.45 C449.39,486.14 450.42,485.84 451.46,485.54 C452.49,485.24 453.52,484.96 454.55,484.67 C455.58,484.39 456.61,484.12 457.64,483.85 C458.67,483.58 459.70,483.32 460.74,483.06 C461.77,482.80 462.80,482.56 463.83,482.31 C464.86,482.07 465.89,481.83 466.92,481.59 C467.95,481.36 468.98,481.13 470.02,480.91 C471.05,480.69 472.08,480.47 473.11,480.25 C474.14,480.04 475.17,479.83 476.20,479.62 C477.23,479.42 478.26,479.21 479.29,479.02 C480.33,478.82 481.36,478.62 482.39,478.43 C483.42,478.24 484.45,478.05 485.48,477.86 C486.51,477.67 487.54,477.49 488.57,477.31 C489.61,477.13 490.64,476.95 491.67,476.77 C492.70,476.59 493.73,476.42 494.76,476.24 C495.79,476.07 496.82,475.89 497.85,475.72 C498.89,475.55 499.92,475.38 500.95,475.20 C501.98,475.03 503.01,474.86 504.04,474.69 C505.07,474.52 506.10,474.35 507.13,474.18 C508.16,474.00 509.20,473.83 510.23,473.66 C511.26,473.49 512.29,473.31 513.32,473.14 C514.35,472.96 515.38,472.79 516.41,472.61 C517.44,472.43 518.48,472.25 519.51,472.07 C520.54,471.89 522.08,471.61 522.60,471.52" fill="none" stroke="#f9b602" stroke-width="3.70" stroke-linecap="round" stroke-linejoin="round"/>
<path d="M340.10,584.29 C340.61,584.46 342.13,584.93 343.15,585.32 C344.17,585.71 345.18,586.19 346.20,586.62 C347.22,587.06 348.23,587.53 349.25,587.90 C350.27,588.27 351.28,588.63 352.30,588.84 C353.32,589.04 354.33,589.16 355.35,589.13 C356.37,589.10 357.38,588.92 358.40,588.66 C359.42,588.39 360.43,588.00 361.45,587.55 C362.47,587.10 363.48,586.54 364.50,585.95 C365.52,585.35 366.53,584.68 367.55,583.96 C368.57,583.25 369.58,582.47 370.60,581.67 C371.62,580.87 372.63,580.01 373.65,579.15 C374.67,578.28 375.68,577.37 376.70,576.46 C377.72,575.55 378.73,574.61 379.75,573.69 C380.77,572.76 381.78,571.82 382.80,570.90 C383.82,569.99 384.83,569.07 385.85,568.18 C386.87,567.30 387.88,566.43 388.90,565.58 C389.92,564.74 390.93,563.92 391.95,563.11 C392.97,562.30 393.98,561.51 395.00,560.74 C396.02,559.96 397.03,559.21 398.05,558.46 C399.07,557.71 400.08,556.98 401.10,556.25 C402.12,555.53 403.13,554.81 404.15,554.10 C405.17,553.39 406.18,552.69 407.20,552.00 C408.22,551.30 409.23,550.61 410.25,549.93 C411.27,549.25 412.28,548.58 413.30,547.91 C414.32,547.25 415.33,546.59 416.35,545.94 C417.37,545.29 418.38,544.64 419.40,544.00 C420.42,543.37 421.43,542.74 422.45,542.11 C423.47,541.49 424.48,540.87 425.50,540.26 C426.52,539.66 427.53,539.05 428.55,538.46 C429.57,537.86 430.58,537.27 431.60,536.69 C432.62,536.11 433.63,535.54 434.65,534.97 C435.67,534.40 436.68,533.84 437.70,533.29 C438.72,532.74 439.73,532.19 440.75,531.65 C441.77,531.11 442.78,530.58 443.80,530.06 C444.82,529.53 445.83,529.01 446.85,528.50 C447.87,527.99 448.88,527.48 449.90,526.99 C450.92,526.49 451.93,526.00 452.95,525.51 C453.97,525.03 454.98,524.55 456.00,524.08 C457.02,523.61 458.03,523.15 459.05,522.69 C460.07,522.23 461.08,521.78 462.10,521.34 C463.12,520.90 464.13,520.46 465.15,520.03 C466.17,519.60 467.18,519.18 468.20,518.76 C469.22,518.34 470.23,517.93 471.25,517.53 C472.27,517.13 473.28,516.73 474.30,516.34 C475.32,515.95 476.33,515.57 477.35,515.19 C478.37,514.82 479.38,514.45 480.40,514.08 C481.42,513.72 482.43,513.36 483.45,513.01 C484.47,512.66 485.48,512.32 486.50,511.98 C487.52,511.65 488.53,511.32 489.55,510.99 C490.57,510.67 491.58,510.35 492.60,510.04 C493.62,509.73 494.63,509.43 495.65,509.13 C496.67,508.83 497.68,508.54 498.70,508.25 C499.72,507.97 500.73,507.69 501.75,507.42 C502.77,507.15 503.78,506.88 504.80,506.62 C505.82,506.36 506.83,506.11 507.85,505.87 C508.87,505.62 509.88,505.38 510.90,505.15 C511.92,504.91 512.93,504.69 513.95,504.47 C514.97,504.24 515.98,504.03 517.00,503.82 C518.02,503.61 519.03,503.41 520.05,503.22 C521.07,503.02 522.59,502.74 523.10,502.65" fill="none" stroke="#08aeea" stroke-width="3.70" stroke-linecap="round" stroke-linejoin="round"/>
<path d="M340.10,556.87 C340.61,557.74 342.13,560.40 343.15,562.09 C344.17,563.79 345.18,565.37 346.20,567.04 C347.22,568.72 348.23,570.37 349.25,572.12 C350.27,573.87 351.28,575.82 352.30,577.54 C353.32,579.25 354.33,580.99 355.35,582.43 C356.37,583.87 357.38,585.09 358.40,586.18 C359.42,587.27 360.43,588.16 361.45,588.97 C362.47,589.78 363.48,590.44 364.50,591.05 C365.52,591.65 366.53,592.16 367.55,592.61 C368.57,593.06 369.58,593.43 370.60,593.74 C371.62,594.06 372.63,594.30 373.65,594.49 C374.67,594.68 375.68,594.80 376.70,594.88 C377.72,594.96 378.73,594.98 379.75,594.96 C380.77,594.94 381.78,594.87 382.80,594.76 C383.82,594.65 384.83,594.50 385.85,594.31 C386.87,594.13 387.88,593.91 388.90,593.66 C389.92,593.42 390.93,593.14 391.95,592.85 C392.97,592.55 393.98,592.23 395.00,591.90 C396.02,591.57 397.03,591.21 398.05,590.85 C399.07,590.50 400.08,590.12 401.10,589.75 C402.12,589.38 403.13,589.00 404.15,588.63 C405.17,588.25 406.18,587.87 407.20,587.49 C408.22,587.11 409.23,586.72 410.25,586.34 C411.27,585.95 412.28,585.57 413.30,585.18 C414.32,584.79 415.33,584.40 416.35,584.01 C417.37,583.61 418.38,583.22 419.40,582.83 C420.42,582.43 421.43,582.04 422.45,581.64 C423.47,581.24 424.48,580.85 425.50,580.45 C426.52,580.05 427.53,579.65 428.55,579.25 C429.57,578.85 430.58,578.45 431.60,578.04 C432.62,577.64 433.63,577.24 434.65,576.84 C435.67,576.43 436.68,576.03 437.70,575.63 C438.72,575.22 439.73,574.82 440.75,574.42 C441.77,574.01 442.78,573.61 443.80,573.21 C444.82,572.80 445.83,572.40 446.85,572.00 C447.87,571.59 448.88,571.19 449.90,570.79 C450.92,570.39 451.93,569.98 452.95,569.58 C453.97,569.18 454.98,568.78 456.00,568.38 C457.02,567.98 458.03,567.58 459.05,567.18 C460.07,566.79 461.08,566.39 462.10,565.99 C463.12,565.60 464.13,565.20 465.15,564.81 C466.17,564.42 467.18,564.02 468.20,563.63 C469.22,563.24 470.23,562.86 471.25,562.47 C472.27,562.08 473.28,561.70 474.30,561.31 C475.32,560.93 476.33,560.55 477.35,560.17 C478.37,559.79 479.38,559.41 480.40,559.03 C481.42,558.66 482.43,558.29 483.45,557.92 C484.47,557.55 485.48,557.18 486.50,556.81 C487.52,556.45 488.53,556.08 489.55,555.72 C490.57,555.36 491.58,555.00 492.60,554.65 C493.62,554.29 494.63,553.94 495.65,553.59 C496.67,553.24 497.68,552.90 498.70,552.56 C499.72,552.21 500.73,551.88 501.75,551.54 C502.77,551.20 503.78,550.87 504.80,550.54 C505.82,550.22 506.83,549.89 507.85,549.57 C508.87,549.25 509.88,548.93 510.90,548.62 C511.92,548.30 512.93,547.99 513.95,547.69 C514.97,547.38 515.98,547.08 517.00,546.79 C518.02,546.49 519.03,546.20 520.05,545.91 C521.07,545.62 522.59,545.20 523.10,545.06" fill="none" stroke="#7cc246" stroke-width="3.70" stroke-linecap="round" stroke-linejoin="round"/>
<rect x="322.60" y="430.20" width="217.60" height="217.30" fill="none" stroke="#38393d" stroke-width="1.6"/>
<line x1="317.60" y1="647.50" x2="322.60" y2="647.50" stroke="#38393d" stroke-width="1.4"/>
<text x="312.60" y="652.10" font-size="12" text-anchor="end" >5</text>
<line x1="317.60" y1="593.17" x2="322.60" y2="593.17" stroke="#38393d" stroke-width="1.4"/>
<text x="312.60" y="597.77" font-size="12" text-anchor="end" >10</text>
<line x1="317.60" y1="538.85" x2="322.60" y2="538.85" stroke="#38393d" stroke-width="1.4"/>
<text x="312.60" y="543.45" font-size="12" text-anchor="end" >15</text>
<line x1="317.60" y1="484.52" x2="322.60" y2="484.52" stroke="#38393d" stroke-width="1.4"/>
<text x="312.60" y="489.12" font-size="12" text-anchor="end" >20</text>
<line x1="317.60" y1="430.20" x2="322.60" y2="430.20" stroke="#38393d" stroke-width="1.4"/>
<text x="312.60" y="434.80" font-size="12" text-anchor="end" >25</text>
<line x1="322.60" y1="647.50" x2="322.60" y2="652.50" stroke="#38393d" stroke-width="1.4"/>
<text x="323.40" y="665.30" font-size="12" text-anchor="middle" >0%</text>
<line x1="395.13" y1="647.50" x2="395.13" y2="652.50" stroke="#38393d" stroke-width="1.4"/>
<text x="395.93" y="665.30" font-size="12" text-anchor="middle" >20%</text>
<line x1="467.67" y1="647.50" x2="467.67" y2="652.50" stroke="#38393d" stroke-width="1.4"/>
<text x="468.47" y="665.30" font-size="12" text-anchor="middle" >40%</text>
<line x1="540.20" y1="647.50" x2="540.20" y2="652.50" stroke="#38393d" stroke-width="1.4"/>
<text x="541.00" y="665.30" font-size="12" text-anchor="middle" >60%</text>
<text x="327.40" y="447.30" font-size="16.5" text-anchor="start" font-weight="bold">d</text>
<text x="400.80" y="459.70" font-size="12" text-anchor="start" >AR=0.5</text>
<text x="439.70" y="476.60" font-size="12" text-anchor="start" >AR=1.0</text>
<text x="460.00" y="505.70" font-size="12" text-anchor="start" >AR=2.0</text>
<text x="480.80" y="540.00" font-size="12" text-anchor="start" >AR=4.0</text>
<text x="452.00" y="621.70" font-size="12" text-anchor="start" >FF range for</text>
<text x="437.60" y="636.30" font-size="12" text-anchor="start" >commercial TECs</text>
<text x="428.10" y="681.80" font-size="12" text-anchor="middle" >Fill factor</text>
</g></svg></body></html>
